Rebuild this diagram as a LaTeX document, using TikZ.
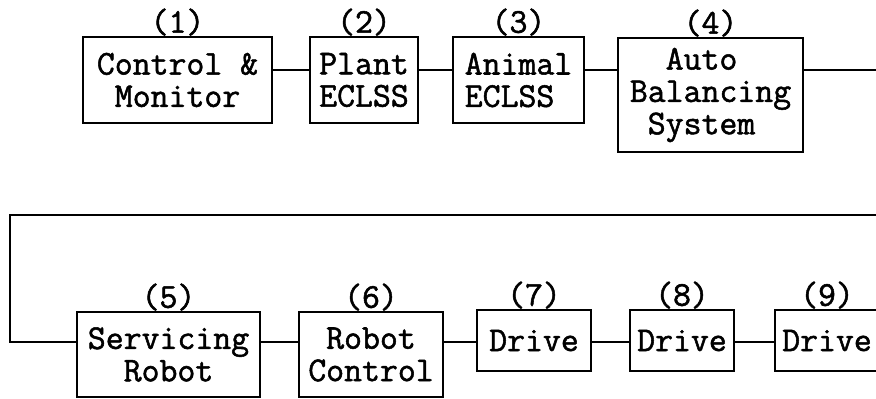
\documentclass[tikz,border=0pt]{standalone}
\usepackage{fontspec}
\setmonofont{Latin Modern Mono}[FakeBold=1.5]
\usepackage{tikz}
\usetikzlibrary{positioning}
\newcommand{\boxfont}{\ttfamily\fontsize{19.8pt}{18.4pt}\selectfont}

\begin{document}
\begin{tikzpicture}[node distance=3cm, auto,
    box/.style={rectangle, draw, line width=1.2pt, minimum height=1.72cm, inner sep=2pt, align=center, font=\boxfont},
    link/.style={line width=1.2pt},
    every label/.style={font=\boxfont, inner sep=0pt},
    label distance=0pt]

    \useasboundingbox (0,0) rectangle (17.52,-7.96);
    \clip (0,0) rectangle (17.52,-7.96);

    \node[box, minimum width=3.78cm, label=above:{(1)}] (ctrl) at (3.55,-1.60) {Control \&\\Monitor};
    \node[box, right of=ctrl, node distance=3.73cm, minimum width=2.16cm, label=above:{(2)}] (plant) {Plant\\ECLSS};
    \node[box, right of=plant, node distance=3.09cm, minimum width=2.62cm, align=left, label=above:{(3)}] (animal) {Animal\\ECLSS};
    \node[box, right of=animal, node distance=3.84cm, yshift=-3mm, minimum width=3.70cm, minimum height=2.28cm, align=left, label=above:{(4)}] (autobal) {\phantom{Au}Auto\\Balancing\\\phantom{S}System};

    \node[box, minimum width=3.66cm, minimum height=1.70cm, label=above:{(5)}] (servrob) at (3.37,-7.09) {Servicing\\Robot};
    \node[box, right of=servrob, node distance=4.05cm, minimum width=2.88cm, minimum height=1.70cm, label=above:{(6)}] (robctrl) {Robot\\Control};
    \node[box, right of=robctrl, node distance=3.26cm, yshift=2.8mm, minimum width=2.28cm, minimum height=1.22cm, label=above:{(7)}] (drive1) {Drive};
    \node[box, right of=drive1, node distance=2.96cm, minimum width=2.08cm, minimum height=1.22cm, label=above:{(8)}] (drive2) {Drive};
    \node[box, right of=drive2, node distance=2.90cm, minimum width=2.08cm, minimum height=1.22cm, label=above:{(9)}] (drive3) {Drive};

    % line levels and the loop back
    \coordinate (toprow) at (0,-1.40);
    \coordinate (botrow) at (0,-6.84);
    \coordinate (turn) at (18.2,-1.40);
    \coordinate (back) at (0.20,-4.30);

    \draw[link] (ctrl.east |- toprow) -- (plant.west |- toprow);
    \draw[link] (plant.east |- toprow) -- (animal.west |- toprow);
    \draw[link] (animal.east |- toprow) -- (autobal.west |- toprow);
    \draw[link] (autobal.east |- toprow) -- (turn) |- (back) |- (servrob.west |- botrow);
    \draw[link] (servrob.east |- botrow) -- (robctrl.west |- botrow);
    \draw[link] (robctrl.east |- botrow) -- (drive1.west |- botrow);
    \draw[link] (drive1.east |- botrow) -- (drive2.west |- botrow);
    \draw[link] (drive2.east |- botrow) -- (drive3.west |- botrow);
\end{tikzpicture}
\end{document}
